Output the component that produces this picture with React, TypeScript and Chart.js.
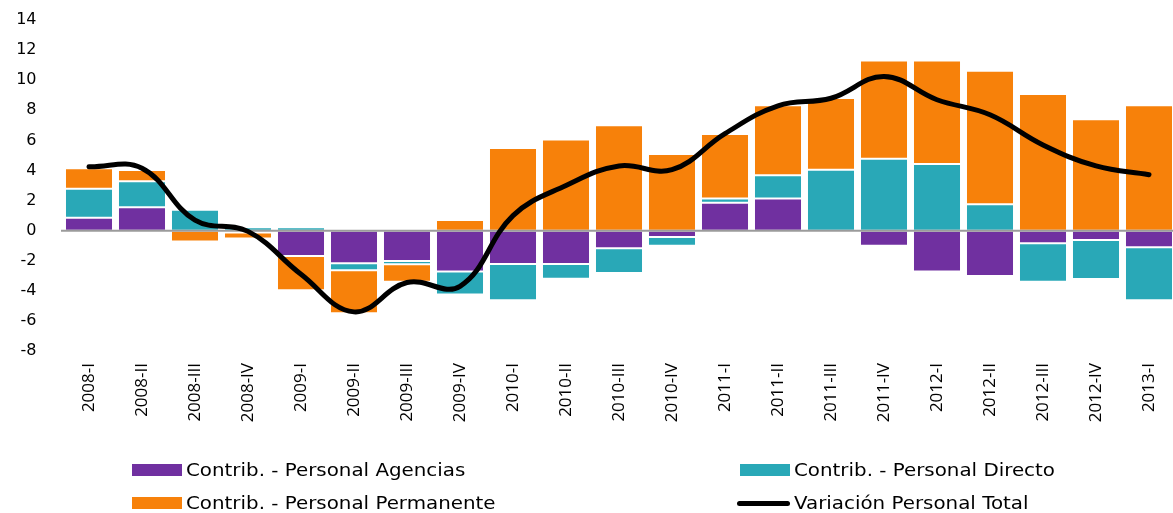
import React, { useEffect, useRef } from "react";
import { Chart, registerables } from "chart.js";

Chart.register(...registerables);

const categories = [
  "2008-I", "2008-II", "2008-III", "2008-IV",
  "2009-I", "2009-II", "2009-III", "2009-IV",
  "2010-I", "2010-II", "2010-III", "2010-IV",
  "2011-I", "2011-II", "2011-III", "2011-IV",
  "2012-I", "2012-II", "2012-III", "2012-IV",
  "2013-I",
];

const agencias = [0.86, 1.55, 0, -0.13, -1.68, -2.17, -2.01, -2.72, -2.21, -2.21, -1.17, -0.42, 1.86, 2.13, -0.1, -1.0, -2.72, -3.01, -0.84, -0.62, -1.1];
const directo = [1.93, 1.73, 1.38, 0.23, 0.23, -0.46, -0.22, -1.53, -2.41, -0.98, -1.64, -0.58, 0.27, 1.55, 4.05, 4.78, 4.43, 1.75, -2.55, -2.59, -3.52];
const permanente = [1.36, 0.75, -0.73, -0.4, -2.28, -2.86, -1.16, 0.71, 5.5, 6.05, 7.0, 5.1, 4.3, 4.65, 4.77, 6.52, 6.87, 8.88, 9.08, 7.4, 8.33];
const total = [4.25, 4.15, 0.7, -0.05, -2.9, -5.4, -3.45, -3.7, 1.0, 3.0, 4.3, 4.05, 6.45, 8.3, 8.8, 10.25, 8.7, 7.7, 5.7, 4.3, 3.72];

const yTicks = [-8, -6, -4, -2, 0, 2, 4, 6, 8, 10, 12, 14];

const seriesNames = [
  "Contrib. - Personal Agencias",
  "Contrib. - Personal Directo",
  "Contrib. - Personal Permanente",
  "Variación Personal Total",
];

const PURPLE = "#7030A0";
const TEAL = "#29A8B7";
const ORANGE = "#F7810A";
const BAR_BORDER = "rgba(255,255,255,0.3)";

export default function App() {
  const ref = useRef<HTMLCanvasElement | null>(null);

  useEffect(() => {
    if (!ref.current) return;
    const zeroLine = {
      id: "zeroLine",
      beforeDatasetDraw(chart: any, args: any) {
        if (args.index !== 0) return;
        const y = chart.scales.y.getPixelForValue(0);
        const ctx = chart.ctx;
        ctx.save();
        ctx.strokeStyle = "#9b9b9b";
        ctx.lineWidth = 2;
        ctx.beginPath();
        ctx.moveTo(chart.chartArea.left - 1.5, y);
        ctx.lineTo(chart.chartArea.right, y);
        ctx.stroke();
        ctx.restore();
      },
    };
    const barCommon = {
      borderWidth: 1,
      borderColor: BAR_BORDER,
      borderSkipped: false,
      stack: "bars",
      barPercentage: 0.906,
      categoryPercentage: 1,
    };
    const chart = new Chart(ref.current, {
      type: "bar",
      data: {
        labels: categories,
        datasets: [
          {
            type: "line",
            label: seriesNames[3],
            data: total,
            borderColor: "#000",
            backgroundColor: "#000",
            borderWidth: 5,
            tension: 0.4,
            pointRadius: 0,
            borderCapStyle: "round",
            borderJoinStyle: "round",
            fill: false,
            stack: "total",
          } as any,
          { label: seriesNames[0], data: agencias, backgroundColor: PURPLE, ...barCommon } as any,
          { label: seriesNames[1], data: directo, backgroundColor: TEAL, ...barCommon } as any,
          { label: seriesNames[2], data: permanente, backgroundColor: ORANGE, ...barCommon } as any,
        ],
      },
      options: {
        responsive: false,
        animation: false,
        layout: { padding: { top: 20, left: 0, right: 0.5, bottom: 0 } },
        plugins: { legend: { display: false }, tooltip: { enabled: false } },
        scales: {
          x: {
            stacked: true,
            grid: { display: false, drawTicks: false },
            border: { display: false },
            ticks: {
              autoSkip: false,
              maxRotation: 90,
              minRotation: 90,
              padding: 12,
              color: "#000",
              font: { family: "Open Sans", size: 17 },
            },
            afterFit: (s: any) => {
              s.height = 162;
              s.paddingLeft = 0;
              s.paddingRight = 0;
            },
          },
          y: {
            stacked: true,
            min: -8,
            max: 14,
            afterBuildTicks: (s: any) => {
              s.ticks = yTicks.map((v) => ({ value: v }));
            },
            grid: { display: false, drawTicks: false },
            border: { display: false },
            ticks: {
              padding: 26,
              color: "#000",
              font: { family: "DejaVu Sans", size: 16 },
            },
            afterFit: (s: any) => {
              s.width = 62.5;
              s.paddingTop = 0;
              s.paddingBottom = 0;
            },
          },
        },
      } as any,
      plugins: [zeroLine],
    });
    return () => chart.destroy();
  }, []);

  const legendFont: React.CSSProperties = {
    fontFamily: "'DejaVu Sans', sans-serif",
    fontSize: 17.5,
    color: "#000",
    whiteSpace: "nowrap",
    lineHeight: "20px",
    display: "inline-block",
    transform: "scaleX(1.134)",
    transformOrigin: "0 50%",
  };

  const items = [
    { left: 132, cy: 470, name: seriesNames[0], color: PURPLE, line: false },
    { left: 740, cy: 470, name: seriesNames[1], color: TEAL, line: false },
    { left: 132, cy: 503, name: seriesNames[2], color: ORANGE, line: false },
    { left: 737, cy: 503, name: seriesNames[3], color: "#000", line: true },
  ];

  return (
    <div
      style={{
        position: "fixed",
        left: 0,
        top: 0,
        width: 1173,
        height: 513,
        overflow: "hidden",
        background: "#fff",
      }}
    >
      <canvas ref={ref} width={1176} height={513} style={{ display: "block", width: 1176, height: 513 }} />
      {items.map((it) => (
        <div
          key={it.name}
          style={{
            position: "absolute",
            left: it.left,
            top: it.cy - 10,
            height: 20,
            display: "flex",
            alignItems: "center",
          }}
        >
          {it.line ? (
            <div style={{ width: 53, height: 5, borderRadius: 3, background: it.color }} />
          ) : (
            <div style={{ width: 50, height: 12, background: it.color }} />
          )}
          <span style={{ ...legendFont, marginLeft: it.line ? 4 : 4 }}>{it.name}</span>
        </div>
      ))}
    </div>
  );
}
